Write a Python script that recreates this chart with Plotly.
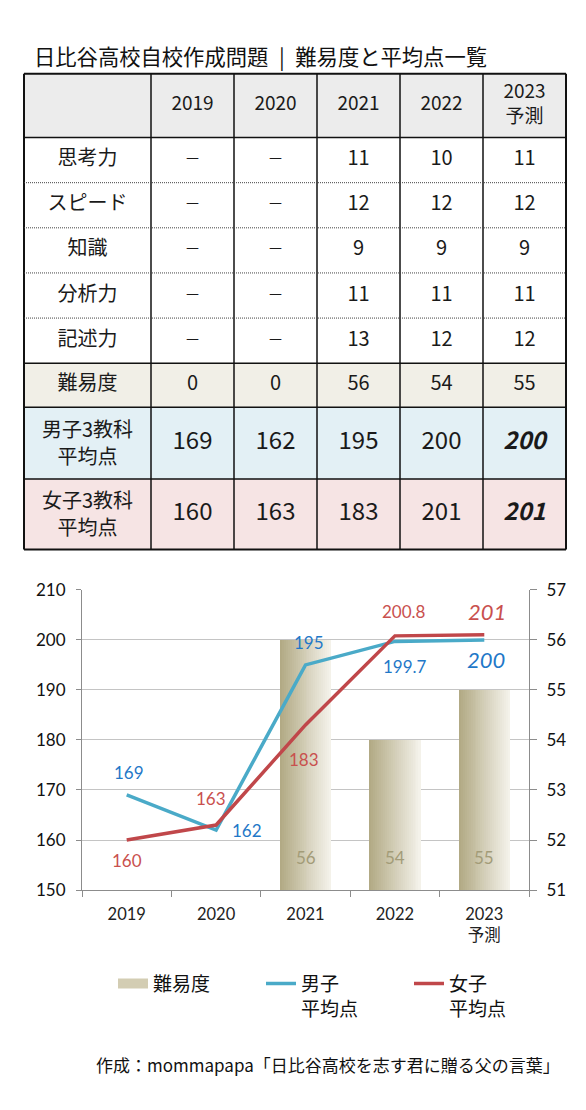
import plotly.graph_objects as go

# ---- data ----
years = ["2019", "2020", "2021", "2022", "2023"]
year_labels = ["2019", "2020", "2021", "2022", "2023<br>予測"]

subjects = ["思考力", "スピード", "知識", "分析力", "記述力"]
thinking = [None, None, 11, 10, 11]
speed = [None, None, 12, 12, 12]
knowledge = [None, None, 9, 9, 9]
analysis = [None, None, 11, 11, 11]
writing = [None, None, 13, 12, 12]

difficulty = [0, 0, 56, 54, 55]

# table values (rounded) and chart values
boys_table = [169, 162, 195, 200, 200]
girls_table = [160, 163, 183, 201, 201]
boys_avg = [169, 162, 195, 199.7, 200]
girls_avg = [160, 163, 183, 200.8, 201]

W, H = 586, 1110
CJK = "Noto Sans CJK JP"
LAT = "Lato, Noto Sans CJK JP"

fig = go.Figure()

# ---------------- table (own axes x3 / y3, 1 unit = 1 px) ----------------
col_w = [127, 83, 83, 83, 83, 83]
row_h = [65, 46, 46, 46, 46, 46, 45, 73, 72]
x_edges = [0]
for w in col_w:
    x_edges.append(x_edges[-1] + w)
y_edges = [0]
for h in row_h:
    y_edges.append(y_edges[-1] + h)

# row fill type: 0 header, 1 plain, 2 difficulty, 3 boys, 4 girls
row_kind = [0, 1, 1, 1, 1, 1, 2, 3, 4]
z = [[k] * len(col_w) for k in row_kind]
fig.add_trace(go.Heatmap(
    x=x_edges, y=y_edges, z=z, xaxis="x3", yaxis="y3",
    zmin=0, zmax=4, showscale=False, hoverinfo="skip",
    colorscale=[[0, "#ececec"], [0.25, "#ffffff"], [0.5, "#f1efe7"],
                [0.75, "#e3f0f5"], [1, "#f6e4e4"]],
))


def fmt(v):
    return "－" if v is None else str(v)


rows = [["", *year_labels]]
for name, vals in zip(subjects, [thinking, speed, knowledge, analysis, writing]):
    rows.append([name] + [fmt(v) for v in vals])
rows.append(["難易度"] + [str(v) for v in difficulty])
rows.append(["男子3教科|平均点"] + [str(v) for v in boys_table[:-1]]
            + ["<b><i>%d</i></b>" % boys_table[-1]])
rows.append(["女子3教科|平均点"] + [str(v) for v in girls_table[:-1]]
            + ["<b><i>%d</i></b>" % girls_table[-1]])

tx, ty, tt, ts = [], [], [], []
for r, row in enumerate(rows):
    for c, txt in enumerate(row):
        xc = (x_edges[c] + x_edges[c + 1]) / 2
        yc = (y_edges[r] + y_edges[r + 1]) / 2
        if "|" in txt:
            # two-line row label: one text point per line
            for k, part in enumerate(txt.split("|")):
                tx.append(xc)
                ty.append(yc - 11 + 27 * k)
                tt.append(part)
                ts.append(20)
            continue
        tx.append(xc)
        ty.append(yc)
        tt.append(txt)
        if r == 0:
            ts.append(19)
        elif txt == "－":
            ts.append(16)
        elif r >= 7 and c > 0:
            ts.append(24)
        else:
            ts.append(20)
fig.add_trace(go.Scatter(
    x=tx, y=ty, text=tt, mode="text", xaxis="x3", yaxis="y3",
    textposition="middle center", showlegend=False, hoverinfo="skip",
    textfont=dict(family=CJK, size=ts, color="#1a1a1a"),
))

# borders
for i, xe in enumerate(x_edges):
    outer = i in (0, len(x_edges) - 1)
    fig.add_shape(type="line", xref="x3", yref="y3", x0=xe, x1=xe,
                  y0=0, y1=y_edges[-1],
                  line=dict(color="#111", width=2 if outer else 1.5))
for j, ye in enumerate(y_edges):
    if 2 <= j <= 5:
        ln = dict(color="#444", width=1, dash="1px,1px")
    else:
        ln = dict(color="#111", width=2 if j in (0, len(y_edges) - 1) else 1.5)
    fig.add_shape(type="line", xref="x3", yref="y3", x0=0, x1=x_edges[-1],
                  y0=ye, y1=ye, line=ln)

# ---------------- chart ----------------
# difficulty bars (right axis) drawn as thin slices to fake the gradient
n_sl = 26
bw = 0.57
c0, c1 = (178, 170, 133), (244, 242, 234)
for i in range(n_sl):
    t = i / (n_sl - 1)
    col = "rgb(%d,%d,%d)" % tuple(round(a + (b - a) * t) for a, b in zip(c0, c1))
    fig.add_trace(go.Bar(
        x=year_labels, y=difficulty, xaxis="x", yaxis="y",
        width=bw / n_sl + 0.004, offset=-bw / 2 + i * bw / n_sl,
        marker=dict(color=col, line=dict(width=0)),
        legendgroup="diff", showlegend=False, hoverinfo="skip",
    ))
# legend swatch for the bars
fig.add_trace(go.Scatter(
    x=[year_labels[0]], y=[None], xaxis="x", yaxis="y", mode="lines",
    name="難易度", legendgroup="diff", hoverinfo="skip",
    line=dict(color="#d3cdb3", width=12),
))

fig.add_trace(go.Scatter(
    x=year_labels, y=boys_avg, xaxis="x", yaxis="y2", mode="lines",
    name="男子<br>平均点", line=dict(color="#4aaac8", width=3.5),
))
fig.add_trace(go.Scatter(
    x=year_labels, y=girls_avg, xaxis="x", yaxis="y2", mode="lines",
    name="女子<br>平均点", line=dict(color="#c0474a", width=3.5),
))

# data labels
boys_shift = [(2, 22), (31, 0), (3, 22), (10, -25), (2, -20)]
girls_shift = [(0, -20), (-5, 27), (-2, -35), (9, 24), (3, 23)]
for vals, shifts, color in [(boys_avg, boys_shift, "#1f78c8"),
                            (girls_avg, girls_shift, "#c9504e")]:
    for i, v in enumerate(vals):
        last = i == len(vals) - 1
        fig.add_annotation(
            x=i, y=v, xref="x", yref="y2", text=f"{v:g}", showarrow=False,
            xshift=shifts[i][0], yshift=shifts[i][1],
            font=dict(family=LAT, size=22 if last else 17, color=color,
                      style="italic" if last else "normal"),
        )
for i, v in enumerate(difficulty):
    if v > 51:
        fig.add_annotation(
            x=i, y=0, xref="x", yref="y domain", text=str(v), showarrow=False,
            yshift=20, font=dict(family=LAT, size=17, color="#a39c78"),
        )

# title and credit
fig.add_annotation(
    x=32 / W, y=1 - 45 / H, xref="paper", yref="paper", xanchor="left",
    yanchor="middle", showarrow=False,
    text="日比谷高校自校作成問題\u2002|\u2002難易度と平均点一覧",
    font=dict(family=CJK, size=21.3, color="#111"),
)
fig.add_annotation(
    x=562 / W, y=1 - 1074 / H, xref="paper", yref="paper", xanchor="right",
    yanchor="middle", showarrow=False,
    text="作成：mommapapa「日比谷高校を志す君に贈る父の言葉」",
    font=dict(family=CJK, size=17, color="#111"),
)

axis_grey = "#8c8c8c"
P = 2
fig.update_layout(
    width=W, height=H, margin=dict(l=0, r=0, t=0, b=0),
    paper_bgcolor="white", plot_bgcolor="white",
    barmode="overlay", bargap=0,
    legend=dict(
        orientation="h", x=113 / W, y=1 - 972 / H, xanchor="left", yanchor="top",
        font=dict(family=CJK, size=19, color="#111"), valign="top",
        entrywidth=103, entrywidthmode="pixels", traceorder="normal",
        bgcolor="rgba(0,0,0,0)",
    ),
    xaxis=dict(
        domain=[82 / W, 529 / W], anchor="y", type="category",
        categoryorder="array", categoryarray=year_labels, range=[-0.5, 4.5],
        tickson="boundaries", ticks="outside", ticklen=6, tickcolor=axis_grey,
        showline=True, linecolor=axis_grey, showgrid=False,
        tickfont=dict(family=LAT, size=16.5, color="#222"), ticklabelstandoff=9,
    ),
    yaxis=dict(
        domain=[1 - 896 / H, 1 - 590 / H], anchor="x", side="right",
        range=[51, 57], dtick=1, showgrid=True, gridcolor="#c4c4c4",
        zeroline=False, showline=True, linecolor=axis_grey,
        ticks="outside", ticklen=7, tickcolor=axis_grey,
        tickfont=dict(family=LAT, size=17, color="#111"), ticklabelstandoff=6,
    ),
    yaxis2=dict(
        overlaying="y", anchor="x", side="left", range=[150, 210], dtick=10,
        showgrid=False, zeroline=False, showline=True, linecolor=axis_grey,
        ticks="outside", ticklen=5, tickcolor=axis_grey,
        tickfont=dict(family=LAT, size=17, color="#111"), ticklabelstandoff=7,
    ),
    xaxis3=dict(
        domain=[(24 - P) / W, (566 + P) / W], anchor="y3",
        range=[-P, x_edges[-1] + P], visible=False, fixedrange=True,
    ),
    yaxis3=dict(
        domain=[1 - (549 + P) / H, 1 - (64 - P) / H], anchor="x3",
        range=[y_edges[-1] + P, -P], visible=False, fixedrange=True,
    ),
)

# drop the browser's default page margin so the figure sits at the top-left
fig.write_html(
    "out.html",
    config={"displayModeBar": False},
    post_script="document.body.style.margin='0';"
                "document.body.style.overflow='hidden';",
)
